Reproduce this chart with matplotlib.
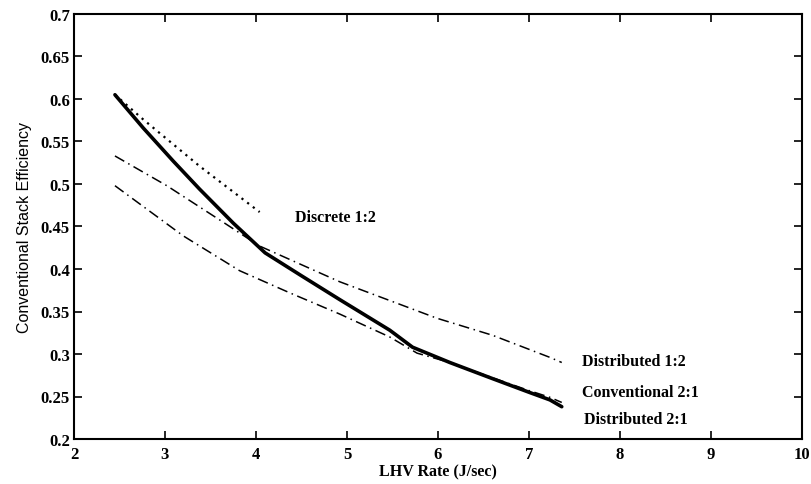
import matplotlib
matplotlib.use("Agg")
import matplotlib.pyplot as plt

conv_x = [2.45, 2.76, 3.09, 3.38, 3.75, 4.1, 4.5, 4.92, 5.47, 5.72, 6.13, 6.6, 7.0, 7.23, 7.36]
conv_y = [0.605, 0.566, 0.527, 0.494, 0.454, 0.419, 0.392, 0.364, 0.328, 0.308, 0.290, 0.271, 0.255, 0.246, 0.238]

d12_x = [2.45, 3.02, 3.64, 4.04, 4.92, 5.99, 6.6, 7.23, 7.36]
d12_y = [0.533, 0.498, 0.455, 0.427, 0.385, 0.342, 0.322, 0.296, 0.290]

d21_x = [2.45, 3.2, 3.82, 4.37, 4.92, 5.47, 5.77, 6.13, 6.6, 7.0, 7.23, 7.36]
d21_y = [0.498, 0.439, 0.398, 0.372, 0.347, 0.320, 0.301, 0.290, 0.272, 0.257, 0.249, 0.243]

disc_x = [2.45, 2.76, 3.38, 4.04]
disc_y = [0.605, 0.576, 0.521, 0.467]

labels = ["Discrete 1:2", "Distributed 1:2", "Conventional 2:1", "Distributed 2:1"]

fig = plt.figure(figsize=(8.12, 4.85), dpi=100)
ax = fig.add_axes([74 / 812, 1 - 440 / 485, 728 / 812, 425 / 485])

ax.plot(conv_x, conv_y, color="black", lw=2.6, solid_capstyle="round", solid_joinstyle="round")
ax.plot(d12_x, d12_y, color="black", lw=1.1, linestyle=(0, (7, 3, 1, 3)))
ax.plot(d21_x, d21_y, color="black", lw=1.1, linestyle=(0, (7, 3, 1, 3)))
ax.plot(disc_x, disc_y, color="black", lw=1.6, linestyle=(0, (1, 2.2)))

tfont = dict(family="Liberation Serif", fontweight="bold", fontsize=11.5)
ax.text(4.43, 0.461, labels[0], va="center", ha="left", **tfont)
ax.text(7.58, 0.292, labels[1], va="center", ha="left", **tfont)
ax.text(7.58, 0.255, labels[2], va="center", ha="left", **tfont)
ax.text(7.60, 0.2235, labels[3], va="center", ha="left", **tfont)

ax.set_xlim(2, 10)
ax.set_ylim(0.2, 0.7)
ax.set_xticks(range(2, 11))
ax.set_yticks([0.2, 0.25, 0.3, 0.35, 0.4, 0.45, 0.5, 0.55, 0.6, 0.65, 0.7])
ax.set_yticklabels(["0.2", "0.25", "0.3", "0.35", "0.4", "0.45", "0.5", "0.55", "0.6", "0.65", "0.7"])
ax.tick_params(direction="in", top=True, right=True, length=6, width=1.2, labelsize=12, pad=3)
ax.tick_params(axis="x", pad=5)
for lab in ax.get_xticklabels() + ax.get_yticklabels():
    lab.set_family("Liberation Serif")
    lab.set_fontweight("bold")
for s in ax.spines.values():
    s.set_linewidth(1.5)

ax.set_xlabel("LHV Rate (J/sec)", family="Liberation Serif", fontweight="bold", fontsize=11.5, labelpad=1)
ax.set_ylabel("Conventional Stack Efficiency", family="Liberation Sans", fontsize=11.5, labelpad=6)

fig.savefig("out.png", dpi=100)
